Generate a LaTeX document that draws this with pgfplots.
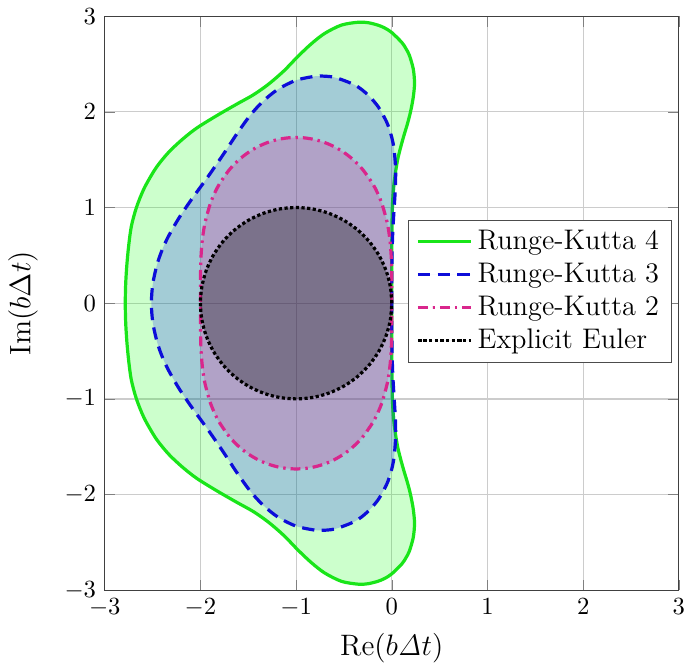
\documentclass[border=0pt]{standalone}
\usepackage{pgfplots}
\pgfplotsset{compat=1.18}
\definecolor{rkfour}{rgb}{0.1,0.9,0.1}
\definecolor{rkthree}{rgb}{0.05,0.05,0.85}
\definecolor{rktwo}{rgb}{0.85,0.15,0.55}
\begin{document}
\begin{tikzpicture}
\begin{axis}[
  width=233pt, height=233pt, scale only axis,
  xmin=-3, xmax=3, ymin=-3, ymax=3,
  xtick={-3,...,3}, ytick={-3,...,3},
  xticklabel style={inner xsep=0pt},
  grid=major, grid style={black!20, line width=0.5pt},
  axis line style={black!75},
  xlabel={$\mathrm{Re}(b\mathit{\Delta}t)$},
  ylabel={$\mathrm{Im}(b\Delta t)$},
  label style={font=\large},
  ylabel shift=4pt,
  legend style={at={(0.988,0.521)}, anchor=east, draw=black!70, cells={anchor=west}, row sep=0pt, font=\fontsize{11.5}{13}\selectfont},
  legend image code/.code={\draw[mark repeat=2,mark phase=2] plot coordinates {(0cm,0cm) (0.38cm,0cm) (0.76cm,0cm)};},
]
% Runge-Kutta 4
\addplot[draw=rkfour, line width=1.3pt, fill=green, fill opacity=0.2, smooth] coordinates {
(0,0) (0.0001,0.5) (0.0012,0.75) (0.006,1.0) (0.018,1.2) (0.036,1.35) (0.061,1.5) (0.09,1.62) (0.126,1.75) (0.165,1.88) (0.1956,2.0) (0.224,2.15) (0.2375,2.3) (0.224,2.45) (0.183,2.5925) (0.147,2.662) (0.1055,2.7242) (0.0,2.8284) (-0.075,2.877) (-0.1476,2.907) (-0.25,2.932) (-0.35,2.9365) (-0.525,2.907) (-0.7,2.8205) (-0.84,2.712) (-0.9804,2.5798) (-1.129,2.4268) (-1.2904,2.2874) (-1.448,2.177) (-1.6174,2.0825) (-1.83,1.96) (-2.037,1.8316) (-2.18,1.72) (-2.3105,1.6) (-2.399,1.5) (-2.4788,1.3925) (-2.5885,1.2) (-2.6686,1.0012) (-2.7221,0.8025) (-2.75,0.6) (-2.769,0.4) (-2.7813,0.2) (-2.7853,0)
(-2.7813,-0.2) (-2.769,-0.4) (-2.75,-0.6) (-2.7221,-0.8025) (-2.6686,-1.0012) (-2.5885,-1.2) (-2.4788,-1.3925) (-2.399,-1.5) (-2.3105,-1.6) (-2.18,-1.72) (-2.037,-1.8316) (-1.83,-1.96) (-1.6174,-2.0825) (-1.448,-2.177) (-1.2904,-2.2874) (-1.129,-2.4268) (-0.9804,-2.5798) (-0.84,-2.712) (-0.7,-2.8205) (-0.525,-2.907) (-0.35,-2.9365) (-0.25,-2.932) (-0.1476,-2.907) (-0.075,-2.877) (0.0,-2.8284) (0.1055,-2.7242) (0.147,-2.662) (0.183,-2.5925) (0.224,-2.45) (0.2375,-2.3) (0.224,-2.15) (0.1956,-2.0) (0.165,-1.88) (0.126,-1.75) (0.09,-1.62) (0.061,-1.5) (0.036,-1.35) (0.018,-1.2) (0.006,-1.0) (0.0012,-0.75) (0.0001,-0.5) (0,0)
};
\addlegendentry{Runge-Kutta 4}
% Runge-Kutta 3
\addplot[draw=rkthree, line width=1.3pt, dash pattern=on 5pt off 3pt, fill=blue, fill opacity=0.2, smooth] coordinates {
(0,0) (0.0002,0.25) (0.0024,0.5) (0.0104,0.75) (0.025,1.0) (0.037,1.2) (0.04,1.4) (0.025,1.6) (0.0075,1.7) (0,1.7321) (-0.026,1.82) (-0.0571,1.9013) (-0.1432,2.0548) (-0.2565,2.1838) (-0.388,2.281) (-0.5969,2.3597) (-0.7455,2.3745) (-0.8002,2.3724) (-1.0,2.33) (-1.1904,2.2351) (-1.3453,2.1105) (-1.48,1.9634) (-1.6195,1.7695) (-1.7525,1.5677) (-1.9205,1.3232) (-2.0881,1.0916) (-2.2262,0.8876) (-2.3373,0.6937) (-2.403,0.55) (-2.455,0.3986) (-2.498,0.2) (-2.5127,0)
(-2.498,-0.2) (-2.455,-0.3986) (-2.403,-0.55) (-2.3373,-0.6937) (-2.2262,-0.8876) (-2.0881,-1.0916) (-1.9205,-1.3232) (-1.7525,-1.5677) (-1.6195,-1.7695) (-1.48,-1.9634) (-1.3453,-2.1105) (-1.1904,-2.2351) (-1.0,-2.33) (-0.8002,-2.3724) (-0.7455,-2.3745) (-0.5969,-2.3597) (-0.388,-2.281) (-0.2565,-2.1838) (-0.1432,-2.0548) (-0.0571,-1.9013) (-0.026,-1.82) (0,-1.7321) (0.0075,-1.7) (0.025,-1.6) (0.04,-1.4) (0.037,-1.2) (0.025,-1.0) (0.0104,-0.75) (0.0024,-0.5) (0.0002,-0.25) (0,0)
};
\addlegendentry{Runge-Kutta 3}
% Runge-Kutta 2
\addplot[draw=rktwo, line width=1.3pt, dash pattern=on 4pt off 2pt on 1pt off 2pt, fill=magenta, fill opacity=0.2, smooth] coordinates {
(0,0) (-0.0001,0.1688) (-0.001,0.3024) (-0.005,0.458) (-0.01,0.5496) (-0.02,0.6615) (-0.03,0.7385) (-0.05,0.8497) (-0.1,1.0304) (-0.15,1.1537) (-0.2,1.249) (-0.3,1.3922) (-0.4,1.4967) (-0.5,1.5755) (-0.6,1.635) (-0.7,1.6787) (-0.8,1.7087) (-0.9,1.7263) (-1,1.7321) (-1.1,1.7263) (-1.2,1.7087) (-1.3,1.6787) (-1.4,1.635) (-1.5,1.5755) (-1.6,1.4967) (-1.7,1.3922) (-1.8,1.249) (-1.85,1.1537) (-1.9,1.0304) (-1.95,0.8497) (-1.97,0.7385) (-1.98,0.6615) (-1.99,0.5496) (-1.995,0.458) (-1.999,0.3024) (-1.9999,0.1688) (-2,0)
(-1.9999,-0.1688) (-1.999,-0.3024) (-1.995,-0.458) (-1.99,-0.5496) (-1.98,-0.6615) (-1.97,-0.7385) (-1.95,-0.8497) (-1.9,-1.0304) (-1.85,-1.1537) (-1.8,-1.249) (-1.7,-1.3922) (-1.6,-1.4967) (-1.5,-1.5755) (-1.4,-1.635) (-1.3,-1.6787) (-1.2,-1.7087) (-1.1,-1.7263) (-1,-1.7321) (-0.9,-1.7263) (-0.8,-1.7087) (-0.7,-1.6787) (-0.6,-1.635) (-0.5,-1.5755) (-0.4,-1.4967) (-0.3,-1.3922) (-0.2,-1.249) (-0.15,-1.1537) (-0.1,-1.0304) (-0.05,-0.8497) (-0.03,-0.7385) (-0.02,-0.6615) (-0.01,-0.5496) (-0.005,-0.458) (-0.001,-0.3024) (-0.0001,-0.1688) (0,0)
};
\addlegendentry{Runge-Kutta 2}
% Explicit Euler
\addplot[draw=black, line width=1.3pt, densely dotted, fill=black, fill opacity=0.3, smooth] coordinates {
(0,0) (-0.0152,0.1736) (-0.0603,0.3420) (-0.1340,0.5) (-0.2340,0.6428) (-0.3572,0.7660) (-0.5,0.8660) (-0.6580,0.9397) (-0.8264,0.9848) (-1,1) (-1.1736,0.9848) (-1.3420,0.9397) (-1.5,0.8660) (-1.6428,0.7660) (-1.7660,0.6428) (-1.8660,0.5) (-1.9397,0.3420) (-1.9848,0.1736) (-2,0)
(-1.9848,-0.1736) (-1.9397,-0.3420) (-1.8660,-0.5) (-1.7660,-0.6428) (-1.6428,-0.7660) (-1.5,-0.8660) (-1.3420,-0.9397) (-1.1736,-0.9848) (-1,-1) (-0.8264,-0.9848) (-0.6580,-0.9397) (-0.5,-0.8660) (-0.3572,-0.7660) (-0.2340,-0.6428) (-0.1340,-0.5) (-0.0603,-0.3420) (-0.0152,-0.1736) (0,0)
};
\addlegendentry{Explicit Euler}
\end{axis}
\end{tikzpicture}
\end{document}
